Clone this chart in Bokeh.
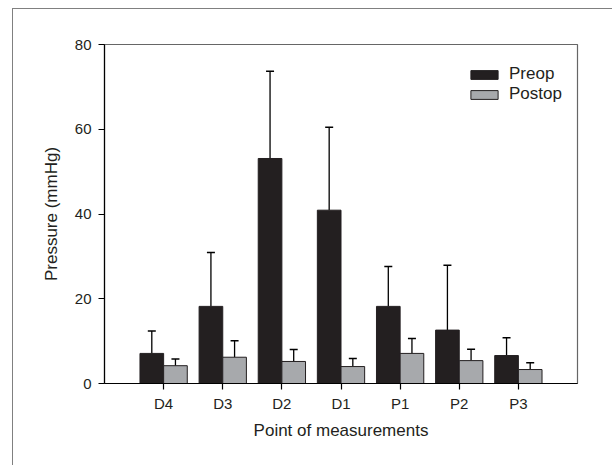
from bokeh.plotting import figure
from bokeh.models import (ColumnDataSource, Range1d, FixedTicker, Whisker, TeeHead,
                          Legend, LegendItem)
from bokeh.embed import file_html
from bokeh.resources import INLINE

categories = ["D4", "D3", "D2", "D1", "P1", "P2", "P3"]
preop_mean = [7.1, 18.2, 53.1, 40.9, 18.2, 12.6, 6.6]
preop_sd = [5.3, 12.7, 20.6, 19.6, 9.4, 15.3, 4.2]
postop_mean = [4.2, 6.2, 5.2, 4.0, 7.1, 5.4, 3.3]
postop_sd = [1.6, 3.9, 2.8, 1.9, 3.5, 2.7, 1.6]

FONT = "Liberation Sans"
TXT = "#231f20"
PRE_COLOR = "#231f20"
POST_COLOR = "#a7a9ac"

xs = list(range(1, len(categories) + 1))
bw = 0.4

pre_src = ColumnDataSource(dict(
    x=[x - bw / 2 for x in xs], top=preop_mean,
    upper=[m + s for m, s in zip(preop_mean, preop_sd)]))
post_src = ColumnDataSource(dict(
    x=[x + bw / 2 for x in xs], top=postop_mean,
    upper=[m + s for m, s in zip(postop_mean, postop_sd)]))

p = figure(width=600, height=457, output_backend="svg", toolbar_location=None,
           x_range=Range1d(0, 8), y_range=Range1d(0, 80),
           min_border_left=91, min_border_right=36, min_border_top=35,
           min_border_bottom=83)
p.margin = (8, 0, 0, 12)
p.styles = {"border-left": "1px solid #808080", "border-top": "1px solid #808080"}
p.background_fill_color = "white"
p.border_fill_color = "white"
p.xgrid.visible = False
p.ygrid.visible = False
p.outline_line_color = "#666666"
p.outline_line_width = 1.2

r_pre = p.vbar(x="x", top="top", bottom=0, width=bw, source=pre_src,
               fill_color=PRE_COLOR, line_color=TXT, line_width=1)
r_post = p.vbar(x="x", top="top", bottom=0, width=bw, source=post_src,
                fill_color=POST_COLOR, line_color=TXT, line_width=1)

for src in (pre_src, post_src):
    w = Whisker(base="x", lower="top", upper="upper", source=src,
                line_color="black", line_width=1.3,
                upper_head=TeeHead(size=8, line_color="black", line_width=1.5),
                lower_head=None, level="underlay")
    p.add_layout(w)

p.xaxis.ticker = FixedTicker(ticks=xs)
p.xaxis.major_label_overrides = {x: c for x, c in zip(xs, categories)}
p.yaxis.ticker = FixedTicker(ticks=[0, 20, 40, 60, 80])
for ax in (p.xaxis[0], p.yaxis[0]):
    ax.axis_line_color = "black"
    ax.axis_line_width = 1.2
    ax.major_tick_line_color = "black"
    ax.major_tick_line_width = 1.2
    ax.major_tick_out = 6
    ax.major_tick_in = 0
    ax.minor_tick_line_color = None
    ax.major_label_text_font = FONT
    ax.major_label_text_font_size = "15px"
    ax.major_label_text_color = TXT
    ax.axis_label_text_font = FONT
    ax.axis_label_text_font_size = "17px"
    ax.axis_label_text_font_style = "normal"
    ax.axis_label_text_color = TXT

p.xaxis.axis_label = "Point of measurements"
p.yaxis.axis_label = "Pressure (mmHg)"
p.yaxis.major_label_standoff = 7
p.yaxis.axis_label_standoff = 11
p.xaxis.major_label_standoff = 5
p.xaxis.axis_label_standoff = 6

legend = Legend(items=[LegendItem(label="Preop", renderers=[r_pre]),
                       LegendItem(label="Postop", renderers=[r_post])],
                location=(363, 279), padding=0, margin=0, spacing=0,
                glyph_width=34, glyph_height=11, label_height=20,
                label_standoff=8, label_text_font=FONT,
                label_text_font_size="17px", label_text_color=TXT,
                border_line_color=None, background_fill_alpha=0)
p.add_layout(legend)

open("out.html", "w").write(file_html(p, INLINE))
